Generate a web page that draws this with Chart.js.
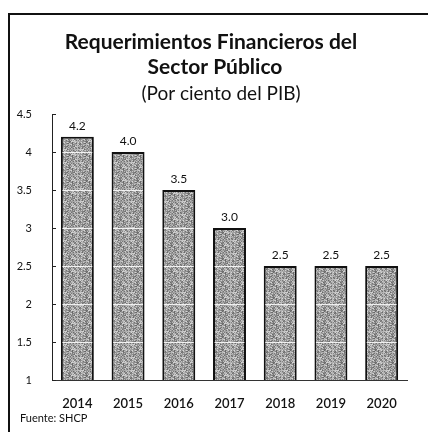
<!DOCTYPE html>
<html>
<head>
<meta charset="utf-8">
<script src="https://cdn.jsdelivr.net/npm/chart.js@4.4.1/dist/chart.umd.min.js"></script>
<style>
  html, body { margin: 0; padding: 0; background: #ffffff; }
  #wrap { position: relative; width: 428px; height: 432px; }
</style>
</head>
<body>
<div id="wrap"><canvas id="c" width="428" height="432"></canvas></div>
<script>
// Requerimientos Financieros del Sector Público, % del PIB
const years = ['2014', '2015', '2016', '2017', '2018', '2019', '2020'];
const rfsp = [4.2, 4.0, 3.5, 3.0, 2.5, 2.5, 2.5];
const valueLabels = ['4.2', '4.0', '3.5', '3.0', '2.5', '2.5', '2.5'];
const yTicks = [1, 1.5, 2, 2.5, 3, 3.5, 4, 4.5];
const titleLines = ['Requerimientos Financieros del', 'Sector Público'];
const subtitle = '(Por ciento del PIB)';
const source = 'Fuente: SHCP';

const FONT = 'Lato, "Open Sans", sans-serif';

// Stippled grey fill for the bars (fixed hash-based grain)
function makeStipple() {
  const w = 17, h = 13;
  const p = document.createElement('canvas');
  p.width = w; p.height = h;
  const g = p.getContext('2d');
  for (let yy = 0; yy < h; yy++) {
    for (let xx = 0; xx < w; xx++) {
      const k = ((xx * 73 + yy * 151 + xx * yy * 37) % 97) / 96;
      const v = Math.round(105 + k * 110);
      g.fillStyle = `rgb(${v},${v},${v})`;
      g.fillRect(xx, yy, 1, 1);
    }
  }
  return g.createPattern(p, 'repeat');
}

const ctx0 = document.getElementById('c').getContext('2d');
const stipple = makeStipple();

const decorations = {
  id: 'decorations',
  afterDatasetsDraw(chart) {
    const { ctx, chartArea, scales } = chart;
    const y = scales.y;
    ctx.save();
    // light rules across the bars
    ctx.strokeStyle = 'rgba(255,255,255,0.85)';
    ctx.lineWidth = 1;
    const meta = chart.getDatasetMeta(0);
    yTicks.slice(1, -1).forEach(v => {
      const py = Math.round(y.getPixelForValue(v)) + 0.5;
      meta.data.forEach((bar, i) => {
        if (rfsp[i] > v) {
          const half = bar.width / 2 - 1.5;
          ctx.beginPath();
          ctx.moveTo(bar.x - half, py);
          ctx.lineTo(bar.x + half, py);
          ctx.stroke();
        }
      });
    });
    // small inward ticks on the value axis
    ctx.strokeStyle = '#222';
    ctx.lineWidth = 1;
    yTicks.forEach(v => {
      const py = Math.round(y.getPixelForValue(v)) + 0.5;
      ctx.beginPath();
      ctx.moveTo(chartArea.left, py);
      ctx.lineTo(chartArea.left + 4, py);
      ctx.stroke();
    });
    // value labels above bars
    ctx.fillStyle = '#111';
    ctx.font = '12px ' + FONT;
    ctx.textAlign = 'center';
    ctx.textBaseline = 'bottom';
    meta.data.forEach((bar, i) => {
      ctx.fillText(valueLabels[i], bar.x, bar.y - 5);
    });
    ctx.restore();
  },
  afterDraw(chart) {
    const { ctx } = chart;
    ctx.save();
    // frame
    ctx.strokeStyle = '#111';
    ctx.lineWidth = 2;
    ctx.beginPath();
    ctx.moveTo(9, 432);
    ctx.lineTo(9, 14);
    ctx.lineTo(428, 14);
    ctx.stroke();
    // titles
    ctx.fillStyle = '#111';
    ctx.textAlign = 'center';
    ctx.textBaseline = 'middle';
    ctx.font = 'bold 21px ' + FONT;
    ctx.fillText(titleLines[0], 211, 42);
    ctx.fillText(titleLines[1], 215, 67);
    ctx.font = '19px ' + FONT;
    ctx.fillText(subtitle, 221, 94);
    // source note
    ctx.textAlign = 'left';
    ctx.font = '11px ' + FONT;
    ctx.fillText(source, 20, 418);
    ctx.restore();
  }
};

new Chart(ctx0, {
  type: 'bar',
  data: {
    labels: years,
    datasets: [{
      data: rfsp,
      backgroundColor: stipple,
      borderColor: '#111',
      borderWidth: 2,
      borderSkipped: false,
      categoryPercentage: 1,
      barPercentage: 0.65
    }]
  },
  options: {
    responsive: false,
    animation: false,
    devicePixelRatio: 1,
    layout: { padding: { top: 114, right: 21, bottom: 22, left: 0 } },
    plugins: {
      legend: { display: false },
      tooltip: { enabled: false },
      title: { display: false }
    },
    scales: {
      x: {
        grid: { display: false },
        border: { display: true, color: '#333', width: 1 },
        ticks: { color: '#111', font: { family: FONT, size: 13, weight: '600' }, padding: 8 },
        afterFit(s) { s.height = 30; }
      },
      y: {
        min: 1,
        max: 4.5,
        afterBuildTicks(s) { s.ticks = yTicks.map(v => ({ value: v })); },
        grid: { display: false },
        border: { display: true, color: '#222', width: 1 },
        ticks: {
          color: '#111',
          font: { family: FONT, size: 11 },
          padding: 12,
          callback: v => String(v)
        },
        afterFit(s) { s.width = 52; }
      }
    }
  },
  plugins: [decorations]
});
</script>
</body>
</html>
